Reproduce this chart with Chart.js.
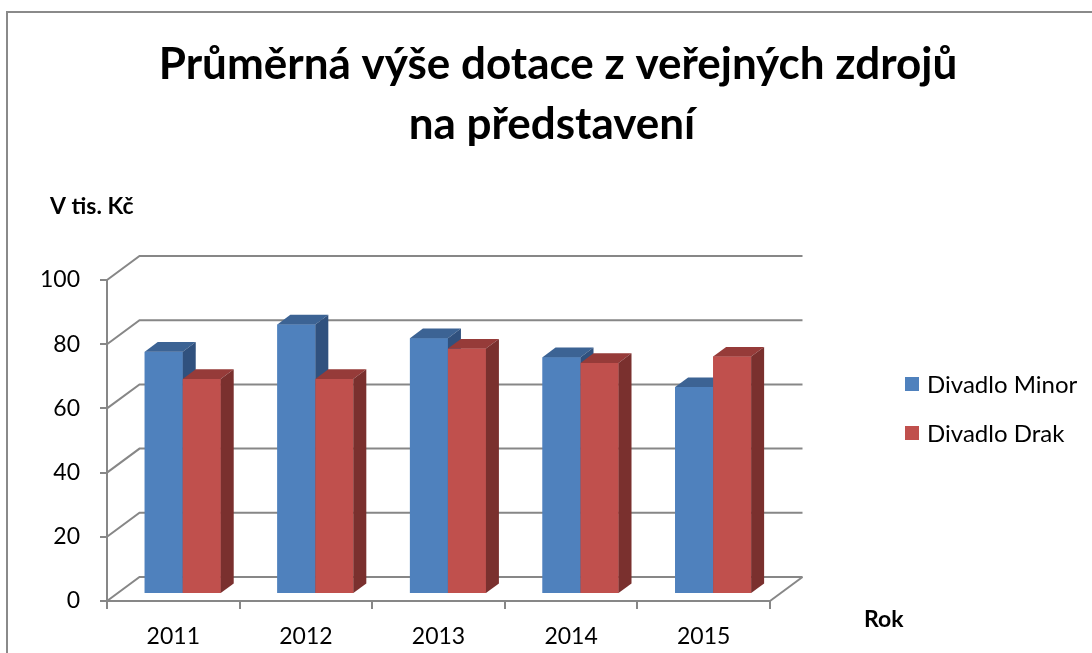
<!DOCTYPE html>
<html>
<head>
<meta charset="utf-8">
<script src="https://cdn.jsdelivr.net/npm/chart.js@4"></script>
<style>
html,body{margin:0;padding:0;background:#fff;}
canvas{display:block;}
</style>
</head>
<body>
<canvas id="c" width="1092" height="653"></canvas>
<script>
const categories = ['2011', '2012', '2013', '2014', '2015'];
const seriesNames = ['Divadlo Minor', 'Divadlo Drak'];
const minorValues = [75.5, 84, 79.7, 73.8, 64.5];
const drakValues = [67, 67, 76.5, 72, 74];
const yTickValues = [0, 20, 40, 60, 80, 100];
const titleLines = ['Průměrná výše dotace z veřejných zdrojů', 'na představení'];
const yAxisTitle = 'V tis. Kč';
const xAxisTitle = 'Rok';

const FONT = 'Lato, "Open Sans", sans-serif';
const GRID = '#878787';
const frontColors = ['#4f81bd', '#c0504d'];
const topColors = ['#3c6394', '#963b39'];
const sideColors = ['#30517e', '#7a302e'];

// depth of the 3D box (oblique projection)
const DEPTH_DX = 32.5, DEPTH_DY = 24;
const BAR_FRONT = 0.29, BAR_BACK = 0.69;

const threeD = {
  id: 'threeD',
  beforeDraw(chart) {
    const ctx = chart.ctx;
    ctx.save();
    ctx.fillStyle = '#fff';
    ctx.fillRect(0, 0, chart.width, chart.height);
    ctx.strokeStyle = '#8a8a8a';
    ctx.lineWidth = 2;
    ctx.strokeRect(7, 12, 3000, 3000);
    ctx.restore();
  },
  beforeDatasetsDraw(chart) {
    const ctx = chart.ctx;
    const ys = chart.scales.y;
    const a = chart.chartArea;
    ctx.save();
    ctx.strokeStyle = GRID;
    ctx.lineWidth = 2;
    yTickValues.forEach(v => {
      const yf = ys.getPixelForValue(v);
      ctx.beginPath();
      ctx.moveTo(a.left, yf);
      ctx.lineTo(a.left + DEPTH_DX, yf - DEPTH_DY);
      ctx.lineTo(a.right + DEPTH_DX, yf - DEPTH_DY);
      ctx.stroke();
    });
    const y0 = ys.getPixelForValue(0);
    ctx.beginPath();
    ctx.moveTo(a.right, y0);
    ctx.lineTo(a.right + DEPTH_DX, y0 - DEPTH_DY);
    ctx.stroke();
    ctx.restore();
    ctx.save();
    ctx.translate(DEPTH_DX * BAR_FRONT, -DEPTH_DY * BAR_FRONT);
  },
  afterDatasetsDraw(chart) {
    const ctx = chart.ctx;
    const bdx = DEPTH_DX * (BAR_BACK - BAR_FRONT);
    const bdy = DEPTH_DY * (BAR_BACK - BAR_FRONT);
    const metas = [chart.getDatasetMeta(0), chart.getDatasetMeta(1)];
    for (let i = 0; i < categories.length; i++) {
      metas.forEach((meta, d) => {
        const el = meta.data[i];
        el.draw(ctx);
        const p = el.getProps(['x', 'y', 'base', 'width'], true);
        const l = p.x - p.width / 2, r = p.x + p.width / 2;
        ctx.fillStyle = topColors[d];
        ctx.beginPath();
        ctx.moveTo(l, p.y);
        ctx.lineTo(r, p.y);
        ctx.lineTo(r + bdx, p.y - bdy);
        ctx.lineTo(l + bdx, p.y - bdy);
        ctx.closePath();
        ctx.fill();
        ctx.fillStyle = sideColors[d];
        ctx.beginPath();
        ctx.moveTo(r, p.y);
        ctx.lineTo(r + bdx, p.y - bdy);
        ctx.lineTo(r + bdx, p.base - bdy);
        ctx.lineTo(r, p.base);
        ctx.closePath();
        ctx.fill();
      });
    }
    ctx.restore();
  },
  afterDraw(chart) {
    const ctx = chart.ctx;
    ctx.save();
    ctx.fillStyle = '#000';
    ctx.textAlign = 'center';
    ctx.textBaseline = 'alphabetic';
    ctx.font = 'bold 44px ' + FONT;
    ctx.fillText(titleLines[0], 558, 79);
    ctx.fillText(titleLines[1], 552, 139);
    ctx.textAlign = 'left';
    ctx.font = 'bold 23px ' + FONT;
    ctx.fillText(yAxisTitle, 50, 214);
    ctx.fillText(xAxisTitle, 864, 627);
    ctx.font = '24px ' + FONT;
    ctx.textBaseline = 'middle';
    const ly = [384, 433];
    chart.data.datasets.forEach((ds, k) => {
      ctx.fillStyle = ds.backgroundColor;
      ctx.fillRect(905, ly[k] - 7, 14, 14);
      ctx.fillStyle = '#000';
      ctx.fillText(ds.label, 927, ly[k] + 1);
    });
    ctx.restore();
  }
};

new Chart(document.getElementById('c'), {
  type: 'bar',
  data: {
    labels: categories,
    datasets: [
      { label: seriesNames[0], data: minorValues, backgroundColor: frontColors[0], clip: false },
      { label: seriesNames[1], data: drakValues, backgroundColor: frontColors[1], clip: false }
    ]
  },
  plugins: [threeD],
  options: {
    responsive: false,
    animation: false,
    devicePixelRatio: 1,
    layout: { padding: { left: 0, top: 280, right: 322, bottom: 0 } },
    datasets: { bar: { barPercentage: 1, categoryPercentage: 0.573 } },
    plugins: { legend: { display: false }, title: { display: false }, tooltip: { enabled: false } },
    scales: {
      x: {
        afterFit(s) { s.height = 52; },
        grid: { display: true, drawOnChartArea: false, drawTicks: true, tickLength: 8, color: GRID, lineWidth: 2, offset: true },
        border: { display: true, color: GRID, width: 2 },
        ticks: { color: '#000', font: { family: FONT, size: 23 }, padding: 14 }
      },
      y: {
        min: 0, max: 100,
        afterFit(s) { s.width = 107; },
        afterBuildTicks(s) { s.ticks = yTickValues.map(v => ({ value: v })); },
        grid: { display: true, drawOnChartArea: false, drawTicks: true, tickLength: 7, color: GRID, lineWidth: 2 },
        border: { display: true, color: GRID, width: 2 },
        ticks: { color: '#000', font: { family: FONT, size: 23 }, padding: 20 }
      }
    }
  }
});
</script>
</body>
</html>
